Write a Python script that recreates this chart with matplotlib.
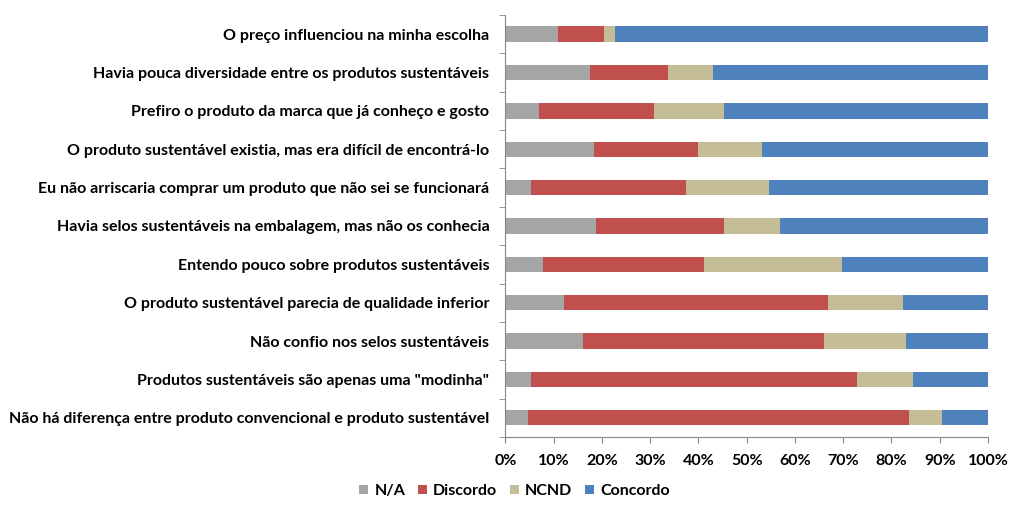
import matplotlib
matplotlib.use("Agg")
import matplotlib.pyplot as plt
import numpy as np
from matplotlib.ticker import FixedLocator, PercentFormatter

categories = [
    "O preço influenciou na minha escolha",
    "Havia pouca diversidade entre os produtos sustentáveis",
    "Prefiro o produto da marca que já conheço e gosto",
    "O produto sustentável existia, mas era difícil de encontrá-lo",
    "Eu não arriscaria comprar um produto que não sei se funcionará",
    "Havia selos sustentáveis na embalagem, mas não os conhecia",
    "Entendo pouco sobre produtos sustentáveis",
    "O produto sustentável parecia de qualidade inferior",
    "Não confio nos selos sustentáveis",
    "Produtos sustentáveis são apenas uma \"modinha\"",
    "Não há diferença entre produto convencional e produto sustentável",
]
na = [11.0, 17.6, 6.9, 18.4, 5.3, 18.7, 7.7, 12.2, 16.0, 5.3, 4.6]
discordo = [9.4, 16.2, 23.8, 21.6, 32.1, 26.6, 33.4, 54.6, 50.1, 67.6, 79.1]
ncnd = [2.4, 9.3, 14.6, 13.1, 17.2, 11.7, 28.7, 15.5, 16.9, 11.5, 6.8]
concordo = [77.2, 56.9, 54.7, 46.9, 45.4, 43.0, 30.2, 17.7, 17.0, 15.6, 9.5]
series_names = ["N/A", "Discordo", "NCND", "Concordo"]
colors = ["#A5A5A5", "#C0504D", "#C4BD97", "#4F81BD"]

plt.rcParams['font.family'] = ['Lato', 'DejaVu Sans']
plt.rcParams['font.weight'] = 'bold'

fig = plt.figure(figsize=(10.23, 5.15), dpi=100)
ax = fig.add_axes([0.494, 0.1515, 0.4718, 0.8195])

n = len(categories)
y = np.arange(n)[::-1]
left = np.zeros(n)
for vals, name, c in zip([na, discordo, ncnd, concordo], series_names, colors):
    v = np.array(vals)
    ax.barh(y, v, left=left, height=0.4, color=c, label=name)
    left += v

ax.set_xlim(0, 100)
ax.set_ylim(-0.5, n - 0.5)
ax.set_xticks(np.arange(0, 101, 10))
ax.xaxis.set_major_formatter(PercentFormatter(decimals=0))
ax.set_yticks(y)
ax.set_yticklabels(categories)
ax.yaxis.set_minor_locator(FixedLocator(np.arange(-0.5, n, 1.0)))

for s in ['top', 'right']:
    ax.spines[s].set_visible(False)
for s in ['left', 'bottom']:
    ax.spines[s].set_color('#868686')
    ax.spines[s].set_linewidth(0.8)

ax.tick_params(axis='y', which='major', length=0, pad=11.5, labelsize=11.5, colors='black')
ax.tick_params(axis='y', which='minor', length=4, color='#868686', direction='out')
ax.tick_params(axis='x', which='major', length=4, color='#868686', direction='out', pad=8, labelsize=11.5)
for lbl in ax.get_xticklabels() + ax.get_yticklabels():
    lbl.set_fontweight('bold')

fig.legend(loc='center', bbox_to_anchor=(0.503, 0.046), ncol=4, frameon=False,
           handlelength=0.55, handleheight=0.55, handletextpad=0.4, columnspacing=0.8,
           prop={'weight': 'bold', 'size': 11.5})

fig.savefig("out.png", dpi=100)
